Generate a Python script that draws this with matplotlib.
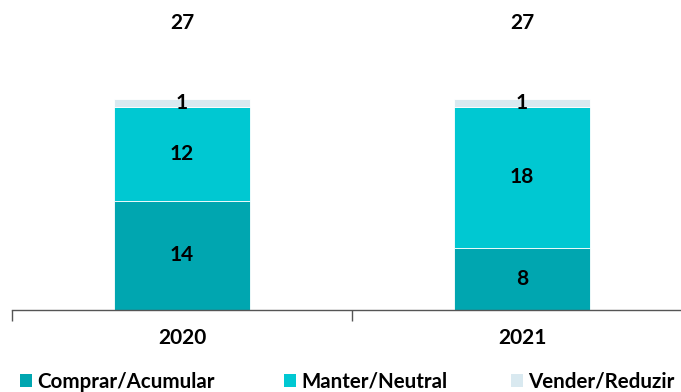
import numpy as np
import matplotlib.pyplot as plt
from matplotlib.patches import Patch

plt.rcParams['font.family'] = ['Lato', 'DejaVu Sans']

anos = ["2020", "2021"]
comprar = [14, 8]
manter = [12, 18]
vender = [1, 1]
totais = [27, 27]
series = ["Comprar/Acumular", "Manter/Neutral", "Vender/Reduzir"]
cores = ["#00A6B0", "#00C8D2", "#D9E9F0"]

fig = plt.figure(figsize=(6.81, 3.92), dpi=100)
ax = fig.add_axes([12 / 681, 82 / 392, 680 / 681, 310 / 392])

x = np.arange(len(anos))
w = 0.4
base = np.zeros(len(anos))
for vals, cor in zip([comprar, manter, vender], cores):
    ax.bar(x, vals, w, bottom=base, color=cor, edgecolor="white", linewidth=0.6)
    for xi, b, v in zip(x, base, vals):
        ax.text(xi, b + v / 2, str(v), ha="center", va="center",
                fontsize=15, fontweight="bold", color="black")
    base = base + np.array(vals)

for xi, t in zip(x, totais):
    ax.text(xi, 36.8, str(t), ha="center", va="center",
            fontsize=15, fontweight="bold", color="black")

ax.set_xlim(-0.5, 1.5)
ax.set_ylim(0, 39.7)
for s in ["top", "right", "left"]:
    ax.spines[s].set_visible(False)
ax.spines["bottom"].set_color("#555555")
ax.spines["bottom"].set_linewidth(1.0)
ax.set_yticks([])
ax.set_xticks(x)
ax.set_xticklabels(anos, fontsize=15, fontweight="bold")
ax.tick_params(axis="x", which="major", length=0, pad=13)
ax.set_xticks([-0.5, 0.5, 1.5], minor=True)
ax.tick_params(axis="x", which="minor", length=8, color="#555555", width=1.0)

# legenda: um item por posição, como no original
pos_leg = [20, 284, 511]
for nome, cor, px in zip(series, cores, pos_leg):
    fig.legend([Patch(facecolor=cor, edgecolor="none")], [nome], loc="center left",
               bbox_to_anchor=(px / 681, 1 - 382 / 392), frameon=False,
               handlelength=0.6, handleheight=0.6, handletextpad=0.25,
               borderpad=0, borderaxespad=0,
               prop={"weight": "bold", "size": 14.8})

fig.savefig("out.png", dpi=100)
